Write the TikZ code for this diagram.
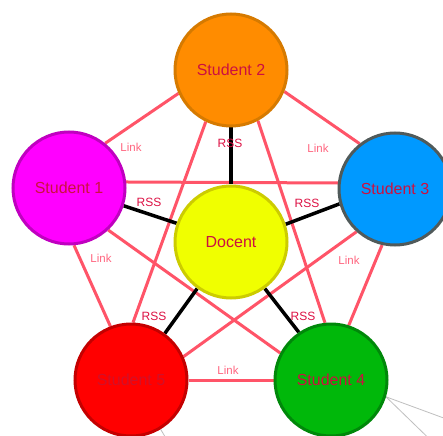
\documentclass[tikz,border=0pt]{standalone}
\usepackage{fontspec}
\setmainfont{Liberation Sans}
\usetikzlibrary{backgrounds}
\definecolor{linkc}{HTML}{FF5468}
\definecolor{linktxt}{HTML}{FF6680}
\definecolor{rsstxt}{HTML}{DD1144}
\definecolor{lbl}{HTML}{CC1040}
\tikzset{
  person/.style={circle, minimum size=112pt, inner sep=0pt, line width=3pt,
    font=\fontsize{16}{18}\selectfont, text=lbl},
  linkedge/.style={draw=linkc, line width=3pt},
  rssedge/.style={draw=black, line width=3.5pt},
  linklbl/.style={font=\fontsize{11.5}{13}\selectfont, text=linktxt, inner sep=0pt},
  rsslbl/.style={font=\fontsize{12}{14}\selectfont, text=rsstxt, inner sep=0pt},
  faint/.style={draw=black!25, line width=0.8pt}
}
\begin{document}
\begin{tikzpicture}[x=1pt,y=-1pt]
\useasboundingbox (0,0) rectangle (443,435);
\clip (0,0) rectangle (443,435);
% nodes
\node[person, fill={rgb,255:red,255;green,140;blue,0}, draw={rgb,255:red,214;green,122;blue,0}] (s2) at (231,70) {Student 2};
\node[person, fill={rgb,255:red,255;green,0;blue,255}, draw={rgb,255:red,192;green,0;blue,192}] (s1) at (69,188) {Student 1};
\node[person, fill={rgb,255:red,0;green,153;blue,255}, draw={rgb,255:red,80;green,90;blue,90}] (s3) at (395,189) {Student 3};
\node[person, fill={rgb,255:red,240;green,255;blue,0}, draw={rgb,255:red,204;green,204;blue,0}] (d) at (231,242) {Docent};
\node[person, fill={rgb,255:red,255;green,0;blue,0}, draw={rgb,255:red,196;green,0;blue,0}, text={rgb,255:red,210;green,16;blue,40}] (s5) at (131,380) {Student 5};
\node[person, fill={rgb,255:red,0;green,184;blue,10}, draw={rgb,255:red,0;green,136;blue,10}] (s4) at (331,380) {Student 4};
% free ends of faint connectors leaving the picture
\coordinate (o1) at (460,424);
\coordinate (o2) at (446,455);
\coordinate (o3) at (170,445);
% labels
\node[linklbl] (l1) at (131,147) {Link};
\node[linklbl] (l2) at (318,148) {Link};
\node[linklbl] (l3) at (101,258) {Link};
\node[linklbl] (l4) at (349,260) {Link};
\node[linklbl] (l5) at (228,370) {Link};
\node[rsslbl] (r1) at (230,143) {RSS};
\node[rsslbl] (r2) at (149,202) {RSS};
\node[rsslbl] (r3) at (307,203) {RSS};
\node[rsslbl] (r4) at (154,316) {RSS};
\node[rsslbl] (r5) at (303,316) {RSS};
\begin{scope}[on background layer]
  \fill[white] (0,0) rectangle (443,435);
  % Link edges
  \draw[linkedge] (s2.204) -- (s1.51);
  \draw[linkedge] (s2.338) -- (s3.128);
  \draw[linkedge] (s1.6) -- (s3.174);
  \draw[linkedge] (s2.244) -- (s5.88);
  \draw[linkedge] (s2.298) -- (s4.96);
  \draw[linkedge] (s1.-47) -- (s4.152);
  \draw[linkedge] (s1.-85) -- (s5.111);
  \draw[linkedge] (s3.228) -- (s5.24.5);
  \draw[linkedge] (s3.257) -- (s4.72.5);
  \draw[linkedge] (s5.0) -- (s4.180);
  % RSS edges
  \draw[rssedge] (s2.270) -- (d.90);
  \draw[rssedge] (s1.-18) -- (d.161.6);
  \draw[rssedge] (s3.195.7) -- (d.18.4);
  \draw[rssedge] (s5.54) -- (d.234);
  \draw[rssedge] (s4.124.5) -- (d.306);
  % faint connectors
  \draw[faint] (s4.-17.5) -- (o1);
  \draw[faint] (s4.-17.5) -- (o2);
  \draw[faint] (s5.-59) -- (o3);
\end{scope}
\end{tikzpicture}
\end{document}
